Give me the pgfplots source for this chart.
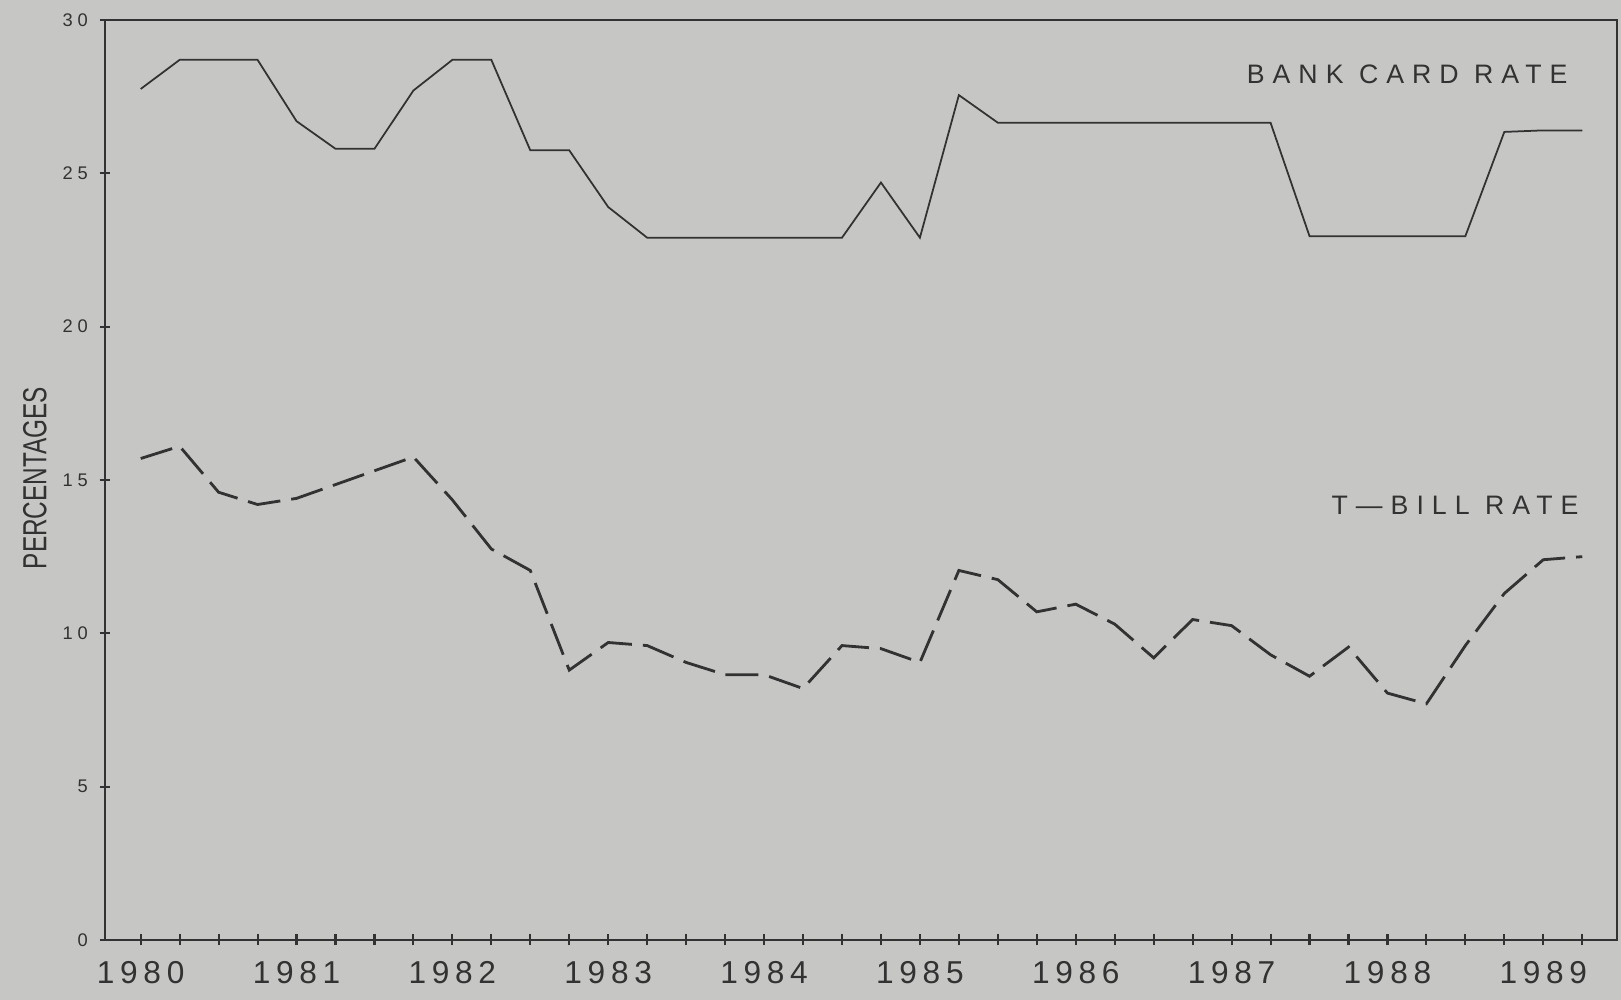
\documentclass[border=0pt]{standalone}
\usepackage{fontspec}
\setmainfont{Liberation Sans}
\newfontfamily\labfont[LetterSpace=30]{Liberation Sans}
\newfontfamily\xtfont[LetterSpace=18]{Liberation Sans}
\newfontfamily\ytfont[LetterSpace=26]{Liberation Sans}
\usepackage{pgfplots}
\pgfplotsset{compat=1.18}
\definecolor{paper}{RGB}{198,198,196}
\definecolor{ink}{RGB}{50,50,50}

\pgfplotstableread{
x bank tbill
1980.00 27.75 15.70
1980.25 28.70 16.10
1980.50 28.70 14.60
1980.75 28.70 14.20
1981.00 26.70 14.40
1981.25 25.80 14.85
1981.50 25.80 15.30
1981.75 27.70 15.75
1982.00 28.70 14.35
1982.25 28.70 12.75
1982.50 25.75 12.05
1982.75 25.75 8.80
1983.00 23.90 9.70
1983.25 22.90 9.60
1983.50 22.90 9.05
1983.75 22.90 8.65
1984.00 22.90 8.65
1984.25 22.90 8.20
1984.50 22.90 9.60
1984.75 24.70 9.50
1985.00 22.90 9.05
1985.25 27.55 12.05
1985.50 26.65 11.75
1985.75 26.65 10.70
1986.00 26.65 10.95
1986.25 26.65 10.30
1986.50 26.65 9.20
1986.75 26.65 10.45
1987.00 26.65 10.25
1987.25 26.65 9.30
1987.50 22.95 8.60
1987.75 22.95 9.55
1988.00 22.95 8.05
1988.25 22.95 7.70
1988.50 22.95 9.60
1988.75 26.35 11.30
1989.00 26.40 12.40
1989.25 26.40 12.50
}\data

\begin{document}
\begin{tikzpicture}
\fill[paper] (-10.5mm,-6mm) rectangle (151.6mm,94mm);
\begin{axis}[
  at={(0,0)}, anchor=south west,
  scale only axis, width=151.2mm, height=92mm,
  xmin=1979.771, xmax=1989.473, ymin=0, ymax=30,
  axis line style={ink, line width=0.8pt},
  tick style={ink, line width=0.6pt},
  tick align=center,
  xtick pos=bottom, ytick pos=left,
  major tick length=1.1mm, minor tick length=1.1mm,
  xtick={1980,1981,1982,1983,1984,1985,1986,1987,1988,1989},
  xticklabels={1980,1981,1982,1983,1984,1985,1986,1987,1988,1989},
  minor xtick={1980.25,1980.5,1980.75,1981.25,1981.5,1981.75,1982.25,1982.5,1982.75,1983.25,1983.5,1983.75,1984.25,1984.5,1984.75,1985.25,1985.5,1985.75,1986.25,1986.5,1986.75,1987.25,1987.5,1987.75,1988.25,1988.5,1988.75,1989.25},
  ytick={0,5,10,15,20,25,30},
  yticklabels={0,5,10,15,20,25,30},
  xticklabel style={font=\xtfont\fontsize{9}{9}\selectfont, text=ink, anchor=base, yshift=-3.8mm},
  yticklabel style={font=\ytfont\fontsize{5.2}{5.5}\selectfont, text=ink, anchor=east, inner sep=0pt, xshift=-1.1mm},
  clip=false,
]
\addplot[ink, line width=0.5pt] table[x=x, y=bank] {\data};
\addplot[ink, line width=0.8pt, dash pattern=on 3.3mm off 1.1mm] table[x=x, y=tbill] {\data};
\node[anchor=east, inner sep=0pt, text=ink, font=\labfont\fontsize{7.6}{8}\selectfont] at (axis cs:1989.16,28.22) {BANK CARD RATE};
\node[anchor=east, inner sep=0pt, text=ink, font=\labfont\fontsize{7.6}{8}\selectfont] at (axis cs:1989.23,14.18) {T—BILL RATE};
\end{axis}
\node[rotate=90, text=ink, inner sep=0pt] at (-7mm,46.2mm) {\scalebox{0.73}[1]{\fontsize{9.5}{10}\selectfont PERCENTAGES}};
\pgfresetboundingbox
\useasboundingbox (-10.5mm,-6mm) rectangle (151.6mm,94mm);
\end{tikzpicture}
\end{document}
